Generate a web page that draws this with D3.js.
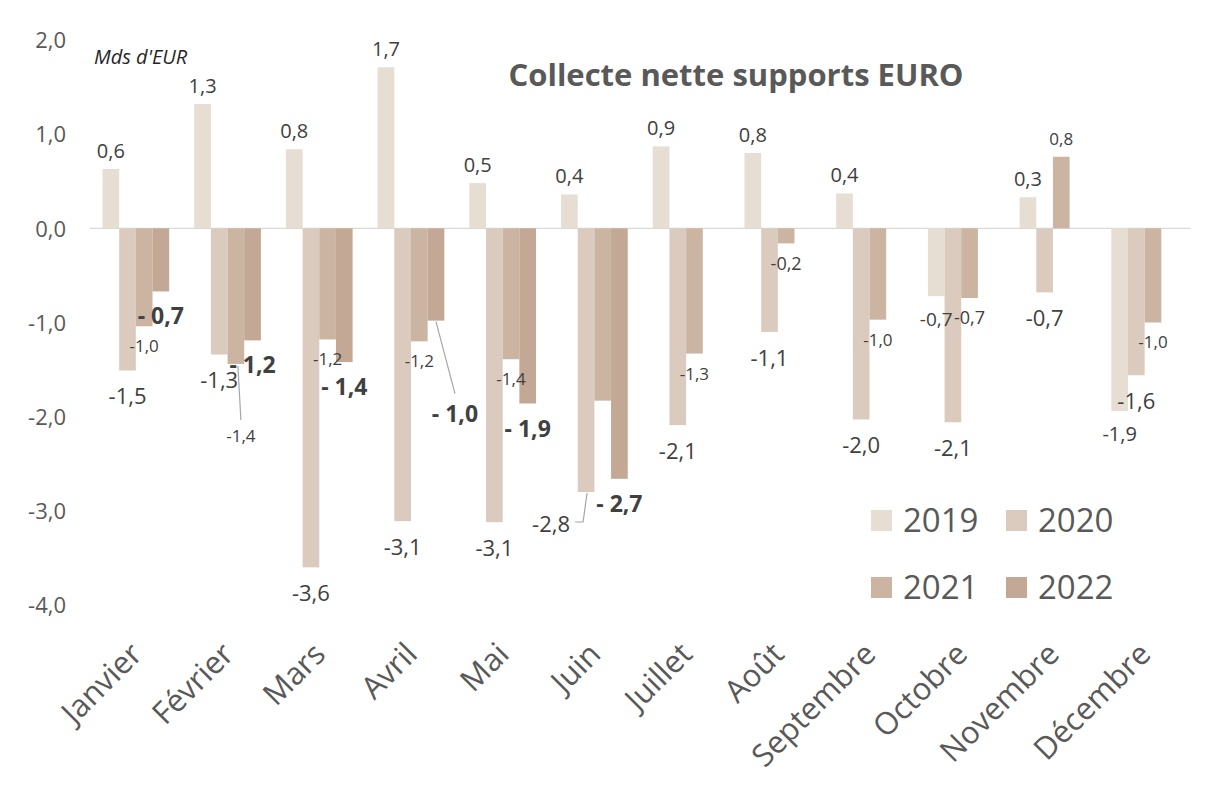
<!DOCTYPE html>
<html><head><meta charset="utf-8">
<script src="https://cdn.jsdelivr.net/npm/d3@7"></script>
<style>html,body{margin:0;padding:0;background:#fff;} text{font-family:"Open Sans","Noto Sans",sans-serif;}</style>
</head><body>
<svg id="chart" width="1226" height="794"></svg>
<script>
const months = ["Janvier","Février","Mars","Avril","Mai","Juin","Juillet","Août","Septembre","Octobre","Novembre","Décembre"];
const years = ["2019","2020","2021","2022"];
const v2019 = [0.63, 1.32, 0.84, 1.71, 0.48, 0.36, 0.87, 0.80, 0.37, -0.72, 0.33, -1.94];
const v2020 = [-1.51, -1.34, -3.60, -3.11, -3.12, -2.80, -2.09, -1.10, -2.03, -2.06, -0.68, -1.56];
const v2021 = [-1.04, -1.44, -1.18, -1.20, -1.39, -1.83, -1.33, -0.16, -0.97, -0.74, 0.76, -1.00];
const v2022 = [-0.67, -1.19, -1.42, -0.98, -1.86, -2.66, null, null, null, null, null, null];
const yTicks = [-4, -3, -2, -1, 0, 1, 2];
const hiddenLabels = ["Juin|2021"];
const titleText = "Collecte nette supports EURO";
const unitText = "Mds d'EUR";

// styles / layout (not data)
const colors = {"2019":"#E6DDD3","2020":"#DBCBBF","2021":"#CBB5A2","2022":"#C2A895"};
const labelStyle = {
  "2019": {size:20, weight:400, pos:-18, neg:23},
  "2020": {size:22, weight:400, pos:-18, neg:26},
  "2021": {size:17, weight:400, pos:-18, neg:20},
  "2022": {size:23, weight:700, pos:-18, neg:25}
};
const labelOverride = {
  "Février|2021": {dx:5, dy:72, leader:[[2,2],[5,56]]},
  "Avril|2022": {dx:19, dy:93, leader:[[0,1],[19,73]]},
  "Juin|2020": {dx:-35, dy:32, leader:[[1,1],[-3,30],[-11,30]]},
  "Octobre|2019": {size:19},
  "Octobre|2021": {size:18},
  "Août|2021": {size:18}
};

const series = {"2019":v2019,"2020":v2020,"2021":v2021,"2022":v2022};
const svg = d3.select("#chart");
const x0 = d3.scaleBand().domain(months).range([90, 1190.5]).paddingInner(0.273).paddingOuter(0.1365);
const x1 = d3.scaleBand().domain(years).range([0, x0.bandwidth()]);
const y = d3.scaleLinear().domain([-4, 2]).range([605, 40]);
const fmt = v => d3.format(".1f")(v).replace(".", ",").replace("−","-");

// zero line
svg.append("line").attr("x1", x0.range()[0]).attr("x2", x0.range()[1])
  .attr("y1", y(0)).attr("y2", y(0)).attr("stroke", "#D9D9D9").attr("stroke-width", 1.3);

// y axis labels
const yAxis = d3.axisLeft(y).tickValues(yTicks).tickSize(0).tickPadding(0)
  .tickFormat(d => d3.format(".1f")(d).replace(".", ",").replace("−","-"));
const gy = svg.append("g").attr("transform", "translate(66,0)").call(yAxis);
gy.select(".domain").remove();
gy.selectAll("text").attr("font-size", 22).attr("fill", "#595959")
  .attr("font-family", "'Open Sans','Noto Sans',sans-serif").attr("dy", "0.35em");

// bars
const flat = [];
months.forEach((m, i) => years.forEach(yr => {
  const v = series[yr][i];
  if (v !== null && v !== undefined) flat.push({m, yr, v});
}));
svg.append("g").selectAll("rect").data(flat).join("rect")
  .attr("x", d => x0(d.m) + x1(d.yr))
  .attr("width", x1.bandwidth())
  .attr("y", d => y(Math.max(0, d.v)))
  .attr("height", d => Math.abs(y(d.v) - y(0)))
  .attr("fill", d => colors[d.yr]);

// labels
const gl = svg.append("g");
flat.forEach(d => {
  const key = d.m + "|" + d.yr;
  if (hiddenLabels.includes(key)) return;
  const st = labelStyle[d.yr];
  const ov = labelOverride[key] || {};
  const cx = x0(d.m) + x1(d.yr) + x1.bandwidth() / 2;
  const ey = y(d.v);
  let lx = cx, ly = ey + (d.v >= 0 ? st.pos : st.neg);
  if (ov.dx !== undefined) { lx = cx + ov.dx; ly = ey + ov.dy; }
  if (ov.leader) {
    gl.append("path")
      .attr("d", d3.line()(ov.leader.map(p => [cx + p[0], ey + p[1]])))
      .attr("fill", "none").attr("stroke", "#A6A6A6").attr("stroke-width", 1.2);
  }
  let txt = fmt(d.v);
  if (d.yr === "2022" && d.v < 0) txt = "- " + fmt(-d.v);
  gl.append("text").attr("x", lx).attr("y", ly).attr("dy", "0.35em")
    .attr("text-anchor", "middle")
    .attr("font-size", ov.size || st.size).attr("font-weight", st.weight)
    .attr("fill", "#404040").text(txt);
});

// x axis labels
svg.append("g").selectAll("text").data(months).join("text")
  .attr("transform", d => `translate(${x0(d) + x0.bandwidth()/2 + 8},656) rotate(-45)`)
  .attr("text-anchor", "end").attr("font-size", 31).attr("fill", "#595959").text(d => d);

// title
svg.append("text").attr("x", 736).attr("y", 86).attr("text-anchor", "middle")
  .attr("font-size", 31).attr("font-weight", 700).attr("fill", "#595959").text(titleText);
svg.append("text").attr("x", 94).attr("y", 64).attr("font-size", 20).attr("font-style", "italic")
  .attr("fill", "#262626").text(unitText);

// legend
const legPos = [[871,510],[1006,510],[871,577],[1006,577]];
const lg = svg.append("g");
years.forEach((yr, i) => {
  const [lx, ly] = legPos[i];
  lg.append("rect").attr("x", lx).attr("y", ly).attr("width", 21).attr("height", 21).attr("fill", colors[yr]);
  lg.append("text").attr("x", lx + 32).attr("y", ly + 22).attr("font-size", 33).attr("fill", "#595959").text(yr);
});
</script>
</body></html>
